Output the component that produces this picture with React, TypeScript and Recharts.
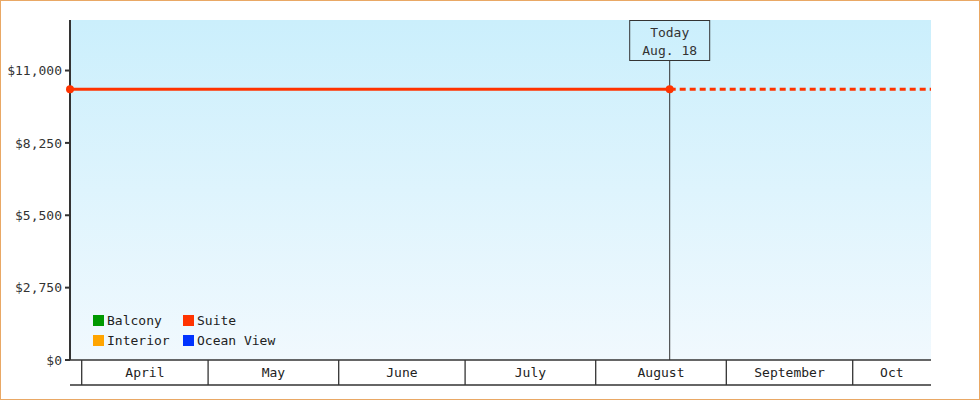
import React from "react";
import {
  ComposedChart,
  Line,
  XAxis,
  YAxis,
  CartesianGrid,
  ReferenceLine,
} from "recharts";

const DAY_MS = 86400000;
const toDay = (iso: string) => Date.parse(iso) / DAY_MS;

// ---- data ----
const rangeStart = "2024-03-29T05:20:00Z";
const todayDate = "2024-08-18T13:30:00Z";
const rangeEnd = "2024-10-19T14:00:00Z";
const todayLabel = ["Today", "Aug. 18"];

const monthBounds = [
  "2024-04-01T00:00:00Z",
  "2024-05-01T00:00:00Z",
  "2024-06-01T00:00:00Z",
  "2024-07-01T00:00:00Z",
  "2024-08-01T00:00:00Z",
  "2024-09-01T00:00:00Z",
  "2024-10-01T00:00:00Z",
  "2024-11-01T00:00:00Z",
];
const monthLabels = ["April", "May", "June", "July", "August", "September", "Oct"];

const yTicks = [0, 2750, 5500, 8250, 11000];
const yMax = 12920;

const seriesNames = ["Balcony", "Suite", "Interior", "Ocean View"];
const seriesKeys = ["balcony", "suite", "interior", "oceanView"];
const seriesColors = ["#009900", "#ff3300", "#ffa500", "#0033ff"];

const suiteDates = [rangeStart, todayDate];
const suitePrices = [10285, 10285];
const suiteProjectedDates = [todayDate, rangeEnd];
const suiteProjectedPrices = [10285, 10285];

// ---- derived ----
const domainStart = toDay(rangeStart);
const domainEnd = toDay(rangeEnd);
const todayX = toDay(todayDate);

type Row = { x: number; suite?: number | null; suiteProjected?: number | null };
const rowMap = new Map<number, Row>();
suiteDates.forEach((d, i) => {
  const x = toDay(d);
  const r = rowMap.get(x) || { x, suite: null, suiteProjected: null };
  r.suite = suitePrices[i];
  rowMap.set(x, r);
});
suiteProjectedDates.forEach((d, i) => {
  const x = toDay(d);
  const r = rowMap.get(x) || { x, suite: null, suiteProjected: null };
  r.suiteProjected = suiteProjectedPrices[i];
  rowMap.set(x, r);
});
const chartData = Array.from(rowMap.values()).sort((a, b) => a.x - b.x);

const boundaryDays = monthBounds.map(toDay);
const separators = boundaryDays.filter((d) => d > domainStart && d < domainEnd);
const monthTicks: number[] = [];
const tickLabelMap = new Map<number, string>();
monthLabels.forEach((label, i) => {
  const s = Math.max(boundaryDays[i], domainStart);
  const e = Math.min(boundaryDays[i + 1], domainEnd);
  if (e > s) {
    const mid = (s + e) / 2;
    monthTicks.push(mid);
    tickLabelMap.set(mid, label);
  }
});

const FONT = "'DejaVu Sans Mono', monospace";
const INK = "#333333";

const MonthTick = (p: any) => (
  <text
    x={p.x}
    y={p.y + 17}
    textAnchor="middle"
    fontFamily={FONT}
    fontSize={13}
    fill="#222"
  >
    {tickLabelMap.get(p.payload.value)}
  </text>
);

const SeparatorShape = (p: any) => {
  const yb = Math.max(p.y1, p.y2);
  return <line x1={p.x1} x2={p.x1} y1={yb} y2={yb + 25} stroke={INK} strokeWidth={1.3} />;
};

const BottomRuleShape = (p: any) => {
  const xa = Math.min(p.x1, p.x2);
  const xb = Math.max(p.x1, p.x2);
  return <line x1={xa} x2={xb} y1={p.y1 + 25} y2={p.y1 + 25} stroke={INK} strokeWidth={1.3} />;
};

const TodayShape = (p: any) => {
  const top = Math.min(p.y1, p.y2);
  const bottom = Math.max(p.y1, p.y2);
  const x = p.x1;
  return (
    <g>
      <line x1={x} x2={x} y1={top + 40} y2={bottom} stroke={INK} strokeWidth={1} />
      <rect x={x - 40} y={top + 0.5} width={80} height={40} fill="none" stroke={INK} strokeWidth={1} />
      <text x={x} y={top + 17} textAnchor="middle" fontFamily={FONT} fontSize={13} fill={INK}>
        {todayLabel[0]}
      </text>
      <text x={x} y={top + 35} textAnchor="middle" fontFamily={FONT} fontSize={13} fill={INK}>
        {todayLabel[1]}
      </text>
    </g>
  );
};

function ChartLegend() {
  return (
    <div
      style={{
        position: "absolute",
        left: 93,
        top: 310,
        display: "grid",
        gridTemplateColumns: "90px 120px",
        fontFamily: FONT,
        fontSize: 13,
        color: "#222",
      }}
    >
      {seriesNames.map((name, i) => (
        <div key={name} style={{ display: "flex", alignItems: "center", height: 20 }}>
          <span
            style={{ display: "inline-block", width: 11, height: 11, background: seriesColors[i], marginRight: 3 }}
          />
          <span>{name}</span>
        </div>
      ))}
    </div>
  );
}

export default function App() {
  return (
    <div style={{ position: "absolute", left: 0, top: 0, width: 980, height: 400, background: "#fff", fontFamily: FONT }}>
      <ComposedChart
        width={980}
        height={400}
        data={chartData}
        margin={{ top: 20, right: 49, bottom: 15, left: 0 }}
      >
        <defs>
          <linearGradient id="plotBg" x1="0" y1="0" x2="0" y2="1">
            <stop offset="0%" stopColor="#cbeffc" />
            <stop offset="100%" stopColor="#f1f9fe" />
          </linearGradient>
        </defs>
        <CartesianGrid fill="url(#plotBg)" horizontal={false} vertical={false} stroke="none" />
        <XAxis
          dataKey="x"
          type="number"
          domain={[domainStart, domainEnd]}
          ticks={monthTicks}
          interval={0}
          tick={<MonthTick />}
          tickLine={false}
          tickSize={0}
          tickMargin={0}
          axisLine={{ stroke: INK, strokeWidth: 1.3 }}
          height={25}
        />
        <YAxis
          type="number"
          domain={[0, yMax]}
          ticks={yTicks}
          interval={0}
          width={70}
          tickFormatter={(v: number) => "$" + v.toLocaleString("en-US")}
          tick={{ fill: INK, fontSize: 13, fontFamily: FONT }}
          tickLine={{ stroke: INK, strokeWidth: 2 }}
          tickSize={5}
          tickMargin={3}
          axisLine={{ stroke: INK, strokeWidth: 2 }}
        />
        {separators.map((d) => (
          <ReferenceLine key={d} x={d} shape={<SeparatorShape />} />
        ))}
        <ReferenceLine y={0} shape={<BottomRuleShape />} />
        <ReferenceLine x={todayX} shape={<TodayShape />} />
        {seriesKeys.map((k, i) =>
          k === "suite" ? (
            <Line
              key={k}
              dataKey={k}
              name={seriesNames[i]}
              stroke={seriesColors[i]}
              strokeWidth={3}
              dot={{ r: 4, fill: seriesColors[i], stroke: seriesColors[i], strokeWidth: 0 }}
              activeDot={false}
              isAnimationActive={false}
              type="linear"
            />
          ) : (
            <Line
              key={k}
              dataKey={k}
              name={seriesNames[i]}
              stroke={seriesColors[i]}
              strokeWidth={3}
              dot={false}
              activeDot={false}
              isAnimationActive={false}
              type="linear"
            />
          )
        )}
        <Line
          dataKey="suiteProjected"
          name="Suite (projected)"
          legendType="none"
          stroke={seriesColors[1]}
          strokeWidth={3}
          strokeDasharray="6 4"
          dot={false}
          activeDot={false}
          isAnimationActive={false}
          type="linear"
        />
      </ComposedChart>
      <ChartLegend />
      <div
        style={{
          position: "absolute",
          left: 0,
          top: 0,
          width: 980,
          height: 400,
          boxSizing: "border-box",
          border: "1px solid #e9a865",
          pointerEvents: "none",
        }}
      />
    </div>
  );
}
